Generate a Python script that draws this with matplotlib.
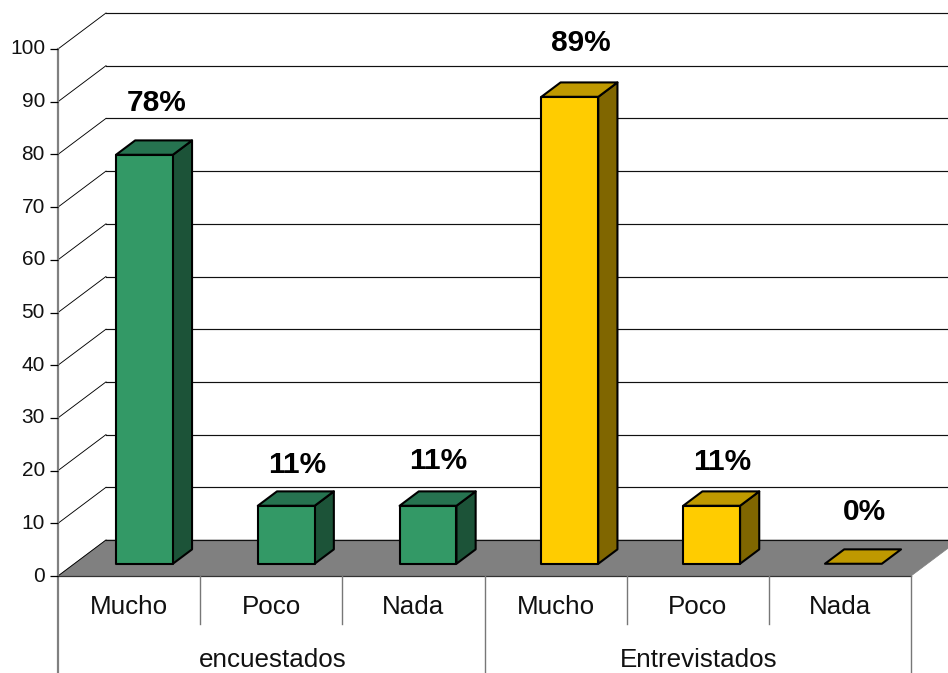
import matplotlib
matplotlib.use("Agg")
import matplotlib.pyplot as plt
from matplotlib.patches import Polygon

plt.rcParams['font.family'] = ['Liberation Sans', 'DejaVu Sans']

# --- data ---
groups = ["encuestados", "Entrevistados"]
categories = ["Mucho", "Poco", "Nada", "Mucho", "Poco", "Nada"]
values = [77.6, 11.0, 11.0, 88.6, 11.0, 0.0]
value_labels = ["78%", "11%", "11%", "89%", "11%", "0%"]
y_ticks = [0, 10, 20, 30, 40, 50, 60, 70, 80, 90, 100]

# --- geometry (pixels of the 948x673 canvas) ---
W, H = 948, 673
X0, Y0 = 58.0, 576.0          # front-left corner of the floor
CAT_W = 142.17                # pixels per category
VAL_H = 5.27                  # pixels per value unit
DEPTH_X, DEPTH_Y = 48.0, 36.0 # full-depth offset

fig = plt.figure(figsize=(W / 100, H / 100), dpi=100, facecolor="white")
ax = fig.add_axes([0, 0, 1, 1])
ax.set_xlim(-X0 / CAT_W, (W - X0) / CAT_W)
ax.set_ylim((Y0 - H) / VAL_H, Y0 / VAL_H)
ax.axis("off")

dxu = 1.0 / CAT_W   # px -> x data
dyu = 1.0 / VAL_H   # px -> y data


def proj(x, y, d):
    """Oblique projection: category x, value y, depth d in 0..1."""
    return x + d * DEPTH_X * dxu, y + d * DEPTH_Y * dyu


n = len(categories)

# floor
ax.add_patch(Polygon([proj(0, 0, 0), proj(n, 0, 0), proj(n, 0, 1), proj(0, 0, 1)],
                     closed=True, fc="#808080", ec="#808080", lw=0.5, zorder=1))

# gridlines: side wall + back wall
for t in y_ticks:
    a, b, c = proj(0, t, 0), proj(0, t, 1), proj(n, t, 1)
    ax.plot([a[0], b[0]], [a[1], b[1]], color="black", lw=0.65, zorder=2)
    ax.plot([b[0], c[0]], [b[1], c[1]], color="#111111", lw=0.85, zorder=2)

# y axis, ticks and tick labels
ax.plot([0, 0], [(Y0 - H) / VAL_H, 100], color="#808080", lw=1.6, zorder=3)
ax.plot([0, n], [0, 0], color="#333333", lw=0.9, zorder=3)
for t in y_ticks:
    ax.plot([-8 * dxu, 0], [t, t], color="black", lw=0.9, zorder=3, solid_capstyle="butt")
    ax.text(-13 * dxu, t, str(t), ha="right", va="center", fontsize=15, color="#111111")

# bars
BAR_W = 0.40      # fraction of category width
BAR_PITCH = 0.9974
D_FRONT, D_BACK = 0.34, 0.74
green = ("#339966", "#267350", "#1C5338")
yellow = ("#FFCC00", "#BF9900", "#806600")
label_nudges = [(3, -37), (1, -26), (1, -30), (1, -39), (1, -29), (1, -37)]

for i, v in enumerate(values):
    front, top, side = green if i < 3 else yellow
    xl = 0.5 - BAR_W / 2 - 0.007 + i * BAR_PITCH
    xr = xl + BAR_W
    if v > 0:
        ax.add_patch(Polygon([proj(xr, 0, D_FRONT), proj(xr, 0, D_BACK), proj(xr, v, D_BACK), proj(xr, v, D_FRONT)],
                             closed=True, fc=side, ec="black", lw=1.5, zorder=5, joinstyle="round"))
        ax.add_patch(Polygon([proj(xl, 0, D_FRONT), proj(xr, 0, D_FRONT), proj(xr, v, D_FRONT), proj(xl, v, D_FRONT)],
                             closed=True, fc=front, ec="black", lw=1.5, zorder=6, joinstyle="round"))
    ax.add_patch(Polygon([proj(xl, v, D_FRONT), proj(xr, v, D_FRONT), proj(xr, v, D_BACK), proj(xl, v, D_BACK)],
                         closed=True, fc=top, ec="black", lw=1.5, zorder=5, joinstyle="round"))
    cx, cy = proj((xl + xr) / 2, v, D_BACK)
    nx, ny = label_nudges[i]
    cx0, _ = proj((xl + xr) / 2, v, (D_FRONT + D_BACK) / 2)
    ax.text(cx0 + nx * dxu, cy - ny * dyu, value_labels[i], ha="center", va="center",
            fontsize=21.5, fontweight="bold", color="black", zorder=7)

# multi-level category axis
for i, c in enumerate(categories):
    ax.text(i + 0.5, -31 * dyu, c, ha="center", va="center", fontsize=18.7, color="#111111")
for i in (1, 2, 4, 5):
    ax.plot([i, i], [0, -48 * dyu], color="#777777", lw=1.0, zorder=3)
ax.plot([3, 3], [0, (Y0 - H) / VAL_H], color="#777777", lw=1.0, zorder=3)
ax.plot([n, n], [0, (Y0 - H) / VAL_H], color="#777777", lw=1.0, zorder=3)
for j, g in enumerate(groups):
    ax.text(3 * j + 1.5 + 1 * dxu, -84 * dyu, g, ha="center", va="center", fontsize=18.7, color="#111111")

fig.savefig("out.png", dpi=100, facecolor="white")
